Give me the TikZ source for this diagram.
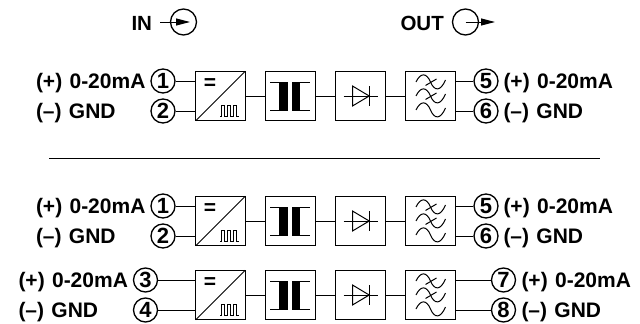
\documentclass[tikz,border=0pt]{standalone}
\usepackage{fontspec}
\setmainfont{Liberation Sans}
\usetikzlibrary{arrows.meta, positioning}

\begin{document}
\begin{tikzpicture}[
  x=1pt, y=-1pt,
  line width=1pt,
  node distance=19.5pt,
  block/.style={draw, minimum size=49.5pt, inner sep=0pt},
  pin/.style={draw, circle, line width=1.3pt, minimum size=24pt, inner sep=0pt, font=\bfseries\fontsize{22}{22}\selectfont},
  label/.style={inner sep=0pt, anchor=base west, font=\bfseries\fontsize{21}{21}\selectfont},
  title/.style={inner sep=0pt, anchor=base west, font=\bfseries\fontsize{20.5}{20.5}\selectfont},
  arrow/.style={-{Triangle[length=14pt, width=7pt]}},
  conv/.pic={
    \draw (-24.75,24.75) -- (24.75,-24.75);
    \node [inner sep=0pt, font=\bfseries\fontsize{21}{21}\selectfont] at (-10.5,-12) {=};
    \draw (-0.5,20) -- (1,20) -- (1,9) -- (4,9) -- (4,20) -- (7,20) -- (7,9) -- (10,9) -- (10,20) -- (13,20) -- (13,9) -- (16,9) -- (16,20) -- (18.5,20);
  },
  iso/.pic={
    \fill (-11.7,-14) rectangle (-2.7,14);
    \fill (1.6,-14) rectangle (9.6,14);
    \draw (-20.4,-14) -- (-2.7,-14) (-20.4,14) -- (-2.7,14);
    \draw (1.6,-14) -- (19,-14) (1.6,14) -- (19,14);
  },
  rect/.pic={
    \draw (-17,0) -- (17,0);
    \draw (-8,-10) -- (-8,10) -- (8.7,0) -- cycle;
    \draw (8.7,-10) -- (8.7,10);
  },
  filt/.pic={
    \foreach \w in {-14,0,14}
      \draw (-14.5,\w) .. controls (-10,\w-9.5) and (-4,\w-9.5) .. (0,\w) .. controls (4,\w+9.5) and (10,\w+9.5) .. (15,\w-2);
    \foreach \w in {-14,0}
      \draw (-5,\w+3.5) -- (6,\w-3);
  }
]
% header
\node [title] (intext) at (131,30) {IN};
\node [draw, circle, line width=1.3pt, minimum size=26pt, inner sep=0pt] (incircle) at (183.5,22) {};
\coordinate (instart) at (160,22);
\coordinate (inend) at (190,22);
\draw [arrow] (instart) -- (inend);
\node [title] (outtext) at (400,30) {OUT};
\node [draw, circle, line width=1.3pt, minimum size=26pt, inner sep=0pt] (outcircle) at (465.5,22) {};
\coordinate (outend) at (495,22);
\draw [arrow] (outcircle.center) -- (outend);

% the three channels: row, first pin, centre y, pin x left and right, text x left and right
\foreach \r/\a/\b/\c/\d/\y/\pl/\pr/\tl/\tr in {
    1/1/2/5/6/96/163/486/35.5/503,
    2/1/2/5/6/221/163/486/35.5/503,
    3/3/4/7/8/295/145.5/503.5/18/521} {
  \node [block] (conv\r) at (220.5,\y) {};
  \node [block, right=of conv\r] (iso\r) {};
  \node [block, right=of iso\r] (rect\r) {};
  \node [block, right=of rect\r] (filt\r) {};
  \pic at (conv\r.center) {conv};
  \pic at (iso\r.center) {iso};
  \pic at (rect\r.center) {rect};
  \pic at (filt\r.center) {filt};
  \draw (conv\r) -- (iso\r);
  \draw (iso\r) -- (rect\r);
  \draw (rect\r) -- (filt\r);
  \node [pin] (pin\r a) at (\pl,\y-15) {\a};
  \node [pin] (pin\r b) at (\pl,\y+15) {\b};
  \node [pin] (pin\r c) at (\pr,\y-15) {\c};
  \node [pin] (pin\r d) at (\pr,\y+15) {\d};
  \draw (pin\r a) -- (conv\r.west |- pin\r a);
  \draw (pin\r b) -- (conv\r.west |- pin\r b);
  \draw (filt\r.east |- pin\r c) -- (pin\r c);
  \draw (filt\r.east |- pin\r d) -- (pin\r d);
  \node [label] (text\r a) at (\tl,\y-7.7) {(+)\hspace{1.5pt} 0-20mA};
  \node [label] (text\r b) at (\tl,\y+22.5) {(--)\hspace{1.5pt} GND};
  \node [label] (text\r c) at (\tr,\y-7.7) {(+)\hspace{1.5pt} 0-20mA};
  \node [label] (text\r d) at (\tr,\y+22.5) {(--)\hspace{1.5pt} GND};
}

% separator
\coordinate (sepleft) at (49,158);
\coordinate (sepright) at (600,158);
\draw (sepleft) -- (sepright);

\useasboundingbox (0,0) rectangle (640,324);
\end{tikzpicture}
\end{document}
